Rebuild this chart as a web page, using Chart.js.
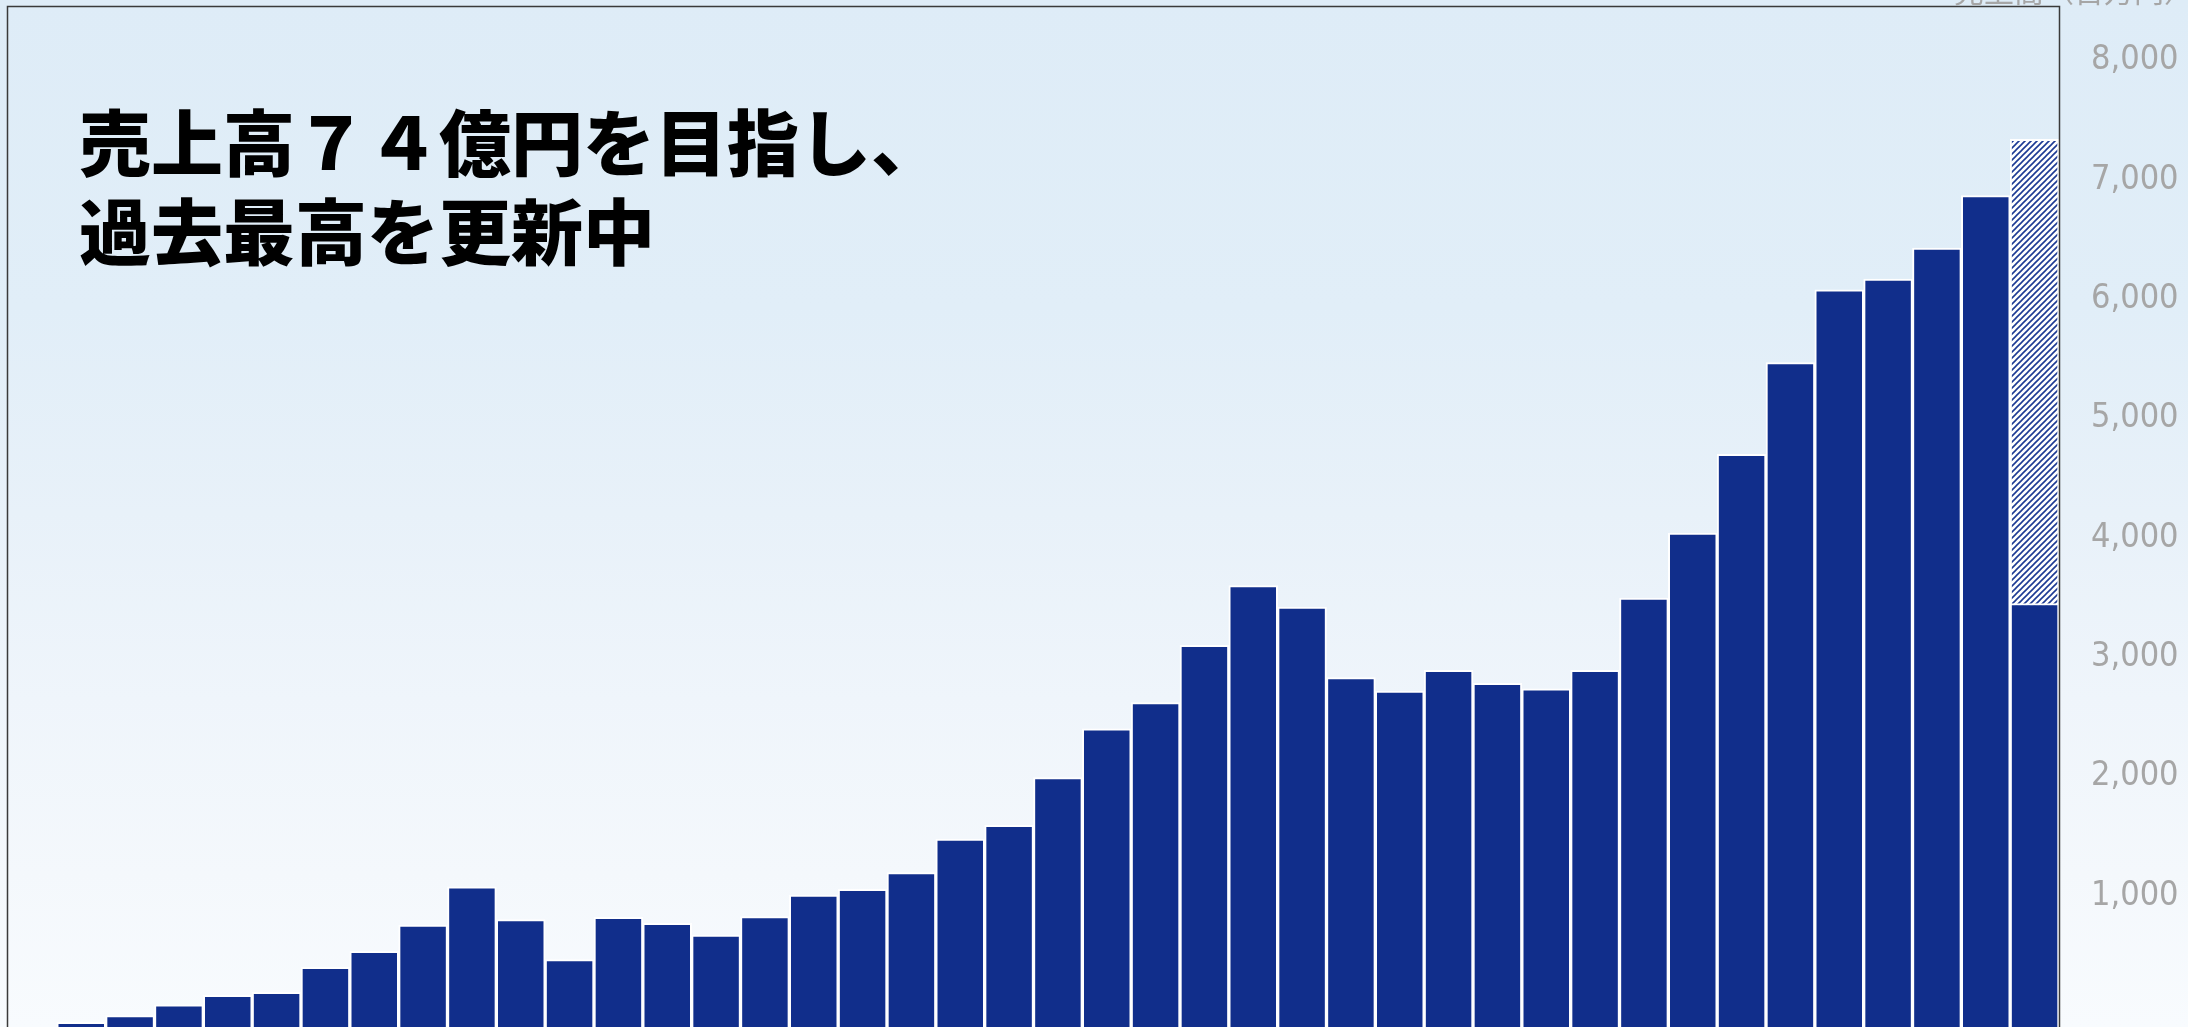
<!DOCTYPE html>
<html><head><meta charset="utf-8">
<script src="https://cdn.jsdelivr.net/npm/chart.js@4.4.1/dist/chart.umd.min.js"></script>
<style>
html,body{margin:0;padding:0;width:2188px;height:1027px;overflow:hidden;}
body{background:linear-gradient(to bottom,#deecf7 0%,#e1eef8 30%,#e8f1f9 50%,#eff5fb 68%,#f4f8fc 85%,#f8fbfe 100%);position:relative;font-family:'Noto Sans CJK JP',sans-serif;}
#wrap{position:absolute;left:0;top:0;width:2188px;height:1027px;}
#headline{position:absolute;left:79px;top:94px;font-size:72px;line-height:89px;font-weight:900;color:#000;white-space:nowrap;font-family:'Noto Sans CJK JP',sans-serif;}
#unit{position:absolute;left:1954px;top:-26px;font-size:30px;line-height:30px;color:#a6a6a6;white-space:nowrap;font-family:'Noto Sans CJK JP',sans-serif;}
</style></head><body>
<div id="wrap"><canvas id="c"></canvas></div>
<div id="headline">売上高７４億円を目指し、<br>過去最高を更新中</div>
<div id="unit">売上高（百万円）</div>
<script>
// categories: fiscal periods (axis labels not shown in the chart)
const periods = ['1','2','3','4','5','6','7','8','9','10','11','12','13','14','15','16','17','18','19','20','21',
                 '22','23','24','25','26','27','28','29','30','31','32','33','34','35','36','37','38','39','40','41','42'];
// actual sales (百万円)
const actualSales = [null, 40, 95, 185, 265, 290, 500, 635, 855, 1175, 900, 565, 920, 870, 770, 925, 1105, 1155, 1295,
                     1575, 1690, 2090, 2500, 2720, 3200, 3700, 3520, 2930, 2815, 2990, 2880, 2835, 2990, 3595, 4140,
                     4800, 5570, 6180, 6270, 6530, 6970, 3550];
// full-year forecast for the current period (百万円)
const forecastSales = [null,null,null,null,null,null,null,null,null,null,null,null,null,null,null,null,null,null,null,
                       null,null,null,null,null,null,null,null,null,null,null,null,null,null,null,null,null,null,null,
                       null,null,null,7440];
// y-axis tick labels
const yTicks = [1000, 2000, 3000, 4000, 5000, 6000, 7000, 8000];

const navy = '#112e8b';

function hatch(){
  const s = 6, c = document.createElement('canvas');
  c.width = s; c.height = s;
  const g = c.getContext('2d');
  g.fillStyle = '#ffffff'; g.fillRect(0,0,s,s);
  g.strokeStyle = '#1d3a94'; g.lineWidth = 1.6;
  g.beginPath();
  g.moveTo(0,s); g.lineTo(s,0);
  g.moveTo(-1,1); g.lineTo(1,-1);
  g.moveTo(s-1,s+1); g.lineTo(s+1,s-1);
  g.stroke();
  return g.createPattern(c,'repeat');
}

const frame = {
  id:'frame',
  afterDatasetsDraw(chart){
    const {ctx, chartArea:a} = chart;
    ctx.save();
    ctx.strokeStyle = '#3a3a3a'; ctx.lineWidth = 1.5;
    ctx.beginPath();
    ctx.moveTo(a.left-0.5, a.bottom+2);
    ctx.lineTo(a.left-0.5, a.top-0.5);
    ctx.lineTo(a.right+0.5, a.top-0.5);
    ctx.lineTo(a.right+0.5, a.bottom+2);
    ctx.stroke();
    ctx.restore();
  }
};

new Chart(document.getElementById('c'), {
  type:'bar',
  data:{
    labels: periods,
    datasets:[
      {label:'売上高', data: actualSales, backgroundColor: navy, borderColor:'#ffffff', borderWidth:2,
       borderSkipped:'start', grouped:false, barPercentage:1, categoryPercentage:1, order:0},
      {label:'売上高（予想）', data: forecastSales, backgroundColor: hatch(), borderColor:'#ffffff', borderWidth:2,
       borderSkipped:'start', grouped:false, barPercentage:1, categoryPercentage:1, order:1}
    ]
  },
  options:{
    responsive:true, maintainAspectRatio:false, animation:false,
    layout:{padding:{left:8, top:7, right:0, bottom:0}},
    plugins:{legend:{display:false}, tooltip:{enabled:false}, title:{display:false}},
    scales:{
      x:{display:false, grid:{display:false}},
      y:{
        position:'right', min:0, max:8550,
        grid:{display:false, drawTicks:false},
        border:{display:false},
        afterFit(s){ s.width = 129; s.paddingTop = 0; s.paddingBottom = 0; },
        afterBuildTicks(s){ s.ticks = yTicks.map(v => ({value:v})); },
        ticks:{
          padding:32, labelOffset:-12, color:'#a6a6a6',
          font:{family:"'DejaVu Sans Condensed','DejaVu Sans',sans-serif", size:34},
          callback:(v) => Number(v).toLocaleString('en-US')
        }
      }
    }
  },
  plugins:[frame]
});
</script>
</body></html>
